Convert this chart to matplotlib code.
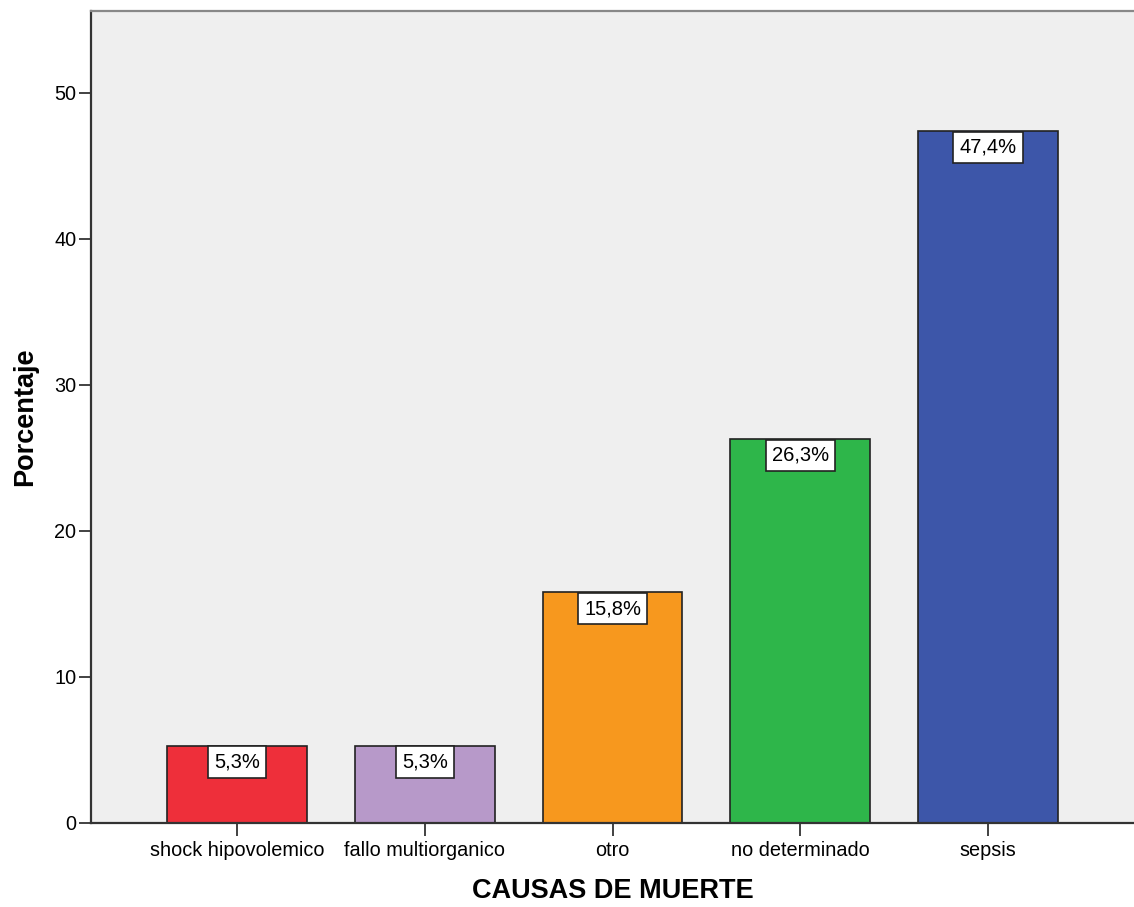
import matplotlib.pyplot as plt

# Datos: causas de muerte (porcentaje)
causas = ["shock hipovolemico", "fallo multiorganico", "otro", "no determinado", "sepsis"]
porcentajes = [5.3, 5.3, 15.8, 26.3, 47.4]
colores = ["#EE2F3A", "#B799C9", "#F7981E", "#2EB64A", "#3D56A9"]

plt.rcParams['font.family'] = ['Liberation Sans', 'DejaVu Sans']

fig = plt.figure(figsize=(11.34, 9.07), dpi=100)
ax = fig.add_axes([91 / 1134, 84 / 907, 1043 / 1134, 812 / 907])
ax.set_facecolor("#EFEFEF")

x = range(len(causas))
bars = ax.bar(x, porcentajes, width=0.745, color=colores,
              edgecolor="#222222", linewidth=1.2, zorder=2)

# Etiquetas con el valor dentro de cada barra (caja pegada al borde superior)
fs_val = 14.5
pad = 0.3
for b, v in zip(bars, porcentajes):
    ax.annotate(f"{v:.1f}%".replace(".", ","),
                xy=(b.get_x() + b.get_width() / 2, v),
                xytext=(0, -pad * fs_val - 0.6), textcoords="offset points",
                ha="center", va="top", fontsize=fs_val, zorder=3,
                bbox=dict(boxstyle=f"square,pad={pad}", fc="white",
                          ec="#222222", lw=1.2))

ax.set_xlim(-0.777, 4.777)
ax.set_ylim(0, 55.6)
ax.set_xticks(list(x))
ax.set_xticklabels(causas, fontsize=14.3)
ax.set_yticks([0, 10, 20, 30, 40, 50])
ax.tick_params(axis="both", direction="out", length=9, width=1.3,
               color="#333333", labelsize=14.3, pad=1.5)
ax.tick_params(axis="x", pad=4)

for lado in ["left", "bottom"]:
    ax.spines[lado].set_color("#333333")
    ax.spines[lado].set_linewidth(1.6)
ax.spines["top"].set_color("#888888")
ax.spines["top"].set_linewidth(1.6)
ax.spines["right"].set_visible(False)

ax.set_ylabel("Porcentaje", fontsize=19.5, fontweight="bold", labelpad=12)
ax.set_xlabel("CAUSAS DE MUERTE", fontsize=19.5, fontweight="bold", labelpad=13)

fig.savefig("out.png", dpi=100)
